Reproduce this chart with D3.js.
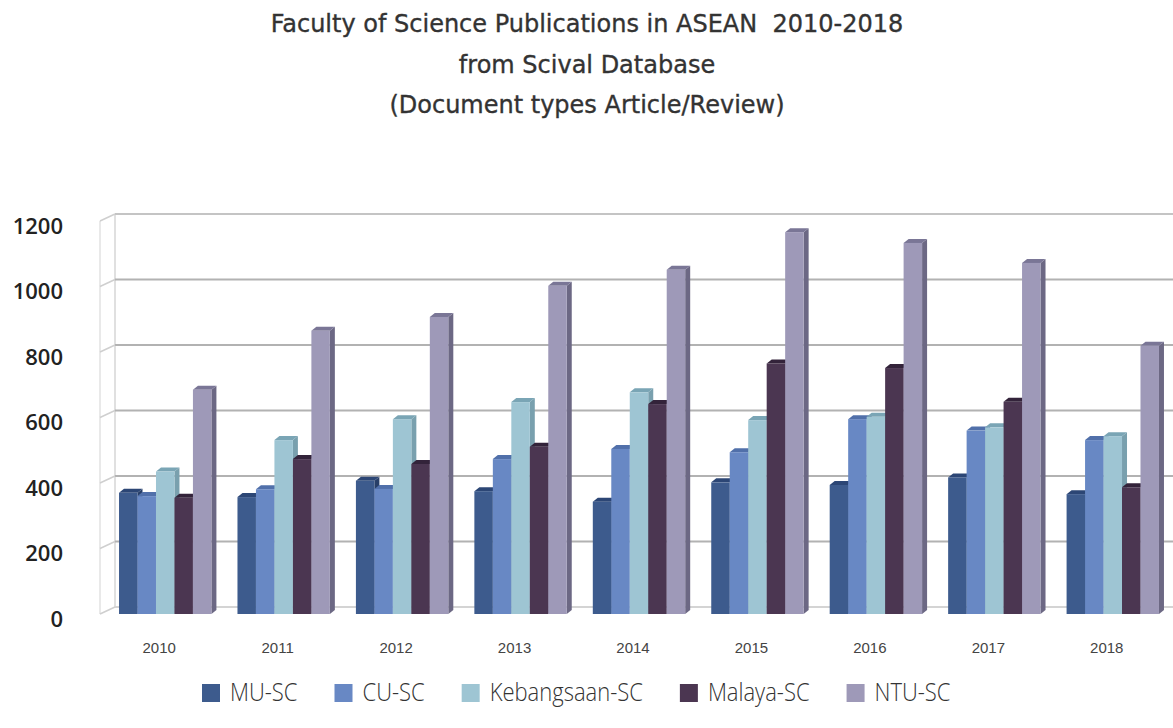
<!DOCTYPE html>
<html>
<head>
<meta charset="utf-8">
<script src="https://cdn.jsdelivr.net/npm/d3@7"></script>
<style>
  body { margin: 0; background: #fff; }
</style>
</head>
<body>
<div id="chart"></div>
<script>
// DATA
const years = ['2010', '2011', '2012', '2013', '2014', '2015', '2016', '2017', '2018'];
const seriesNames = ['MU-SC', 'CU-SC', 'Kebangsaan-SC', 'Malaya-SC', 'NTU-SC'];
const muSC = [370, 357, 407, 375, 343, 402, 394, 417, 366];
const cuSC = [360, 381, 382, 473, 504, 494, 595, 560, 531];
const kebangsaanSC = [435, 531, 595, 647, 677, 592, 602, 570, 543];
const malayaSC = [355, 473, 458, 511, 641, 765, 751, 648, 387];
const ntuSC = [685, 865, 907, 1002, 1051, 1166, 1133, 1072, 819];
const yTicks = [0, 200, 400, 600, 800, 1000, 1200];
const titleLines = [
  'Faculty of Science Publications in ASEAN  2010-2018',
  'from Scival Database',
  '(Document types Article/Review)'
];

// COLORS (front, top, side)
const colors = {
  'MU-SC':         ['#3d5b8d', '#2c4675', '#283f68'],
  'CU-SC':         ['#6888c4', '#5170aa', '#4d699e'],
  'Kebangsaan-SC': ['#9ec5d3', '#7aa5b5', '#79a0ae'],
  'Malaya-SC':     ['#4b3651', '#33233a', '#34243a'],
  'NTU-SC':        ['#9e99b8', '#7a7696', '#6c6884']
};

const seriesValues = [muSC, cuSC, kebangsaanSC, malayaSC, ntuSC];
const data = years.map((yr, i) => ({
  year: yr,
  values: seriesNames.map((s, j) => ({ name: s, value: seriesValues[j][i] }))
}));

// SIZE
const width = 1173, height = 728;
const wallDx = 15, wallDy = 7;   // depth of back wall
const barDx = 5, barDy = 4;      // depth of bars

const svg = d3.select('#chart').append('svg')
  .attr('width', width)
  .attr('height', height);

// TITLE
svg.append('g').selectAll('text')
  .data(titleLines)
  .enter().append('text')
  .attr('x', 587)
  .attr('y', (d, i) => 32 + i * 40.5)
  .attr('text-anchor', 'middle')
  .style('white-space', 'pre')
  .style('font-family', 'DejaVu Sans')
  .style('font-size', '24px')
  .style('fill', '#333')
  .style('stroke', '#333')
  .style('stroke-width', 0.35)
  .text(d => d);

// SCALES
const y = d3.scaleLinear().domain([0, 1200]).range([614, 221]);
const x = d3.scaleBand().domain(years)
  .range([106, 1172])
  .paddingInner(0.22)
  .paddingOuter(0.11);
const xs = d3.scaleBand().domain(seriesNames).range([0, x.bandwidth()]);

// WALLS
const wall = svg.append('g').attr('class', 'walls');
const x0 = 100;

wall.append('line')
  .attr('x1', x0).attr('x2', x0)
  .attr('y1', y(0)).attr('y2', y(1200))
  .style('stroke', '#e2e2e2').style('stroke-width', 1.5);

wall.append('line')
  .attr('x1', x0 + wallDx).attr('x2', x0 + wallDx)
  .attr('y1', y(0) - wallDy).attr('y2', y(1200) - wallDy)
  .style('stroke', '#d6d6d6').style('stroke-width', 1.5);

// gridlines on back wall + left wall
const grid = wall.selectAll('g.grid')
  .data(yTicks)
  .enter().append('g')
  .attr('class', 'grid');

grid.append('line')
  .attr('x1', x0 + wallDx).attr('x2', width)
  .attr('y1', d => y(d) - wallDy).attr('y2', d => y(d) - wallDy)
  .style('stroke', d => d === 0 ? '#d4d4d4' : (d === 1200 ? '#c4c4c4' : '#b2b2b2'))
  .style('stroke-width', 2);

grid.append('line')
  .attr('x1', x0).attr('x2', x0 + wallDx)
  .attr('y1', d => y(d)).attr('y2', d => y(d) - wallDy)
  .style('stroke', '#cfcfcf')
  .style('stroke-width', 1.5);

// Y LABELS
svg.append('g').selectAll('text')
  .data(yTicks)
  .enter().append('text')
  .attr('x', 63)
  .attr('y', d => y(d) + 5)
  .attr('dy', '0.35em')
  .attr('text-anchor', 'end')
  .style('font-family', 'Open Sans')
  .style('font-weight', 600)
  .style('font-size', '22px')
  .style('fill', '#222')
  .text(d => d);

// X LABELS
svg.append('g').selectAll('text')
  .data(years)
  .enter().append('text')
  .attr('x', d => x(d) + x.bandwidth() / 2 - 6)
  .attr('y', 653)
  .attr('text-anchor', 'middle')
  .style('font-family', 'Liberation Sans, Arial')
  .style('font-size', '15px')
  .style('fill', '#444')
  .text(d => d);

// BARS
const groups = svg.append('g').attr('class', 'data')
  .selectAll('g')
  .data(data)
  .enter().append('g')
  .attr('transform', d => `translate(${x(d.year)},0)`);

const bars = groups.selectAll('g')
  .data(d => d.values)
  .enter().append('g');

const bw = xs.bandwidth();

bars.append('polygon')
  .attr('points', d => {
    const bx = xs(d.name), top = y(d.value), bot = y(0);
    return [[bx + bw, top], [bx + bw + barDx, top - barDy], [bx + bw + barDx, bot - barDy], [bx + bw, bot]].join(' ');
  })
  .style('fill', d => colors[d.name][2]);

bars.append('polygon')
  .attr('points', d => {
    const bx = xs(d.name), top = y(d.value);
    return [[bx, top], [bx + barDx, top - barDy], [bx + bw + barDx, top - barDy], [bx + bw, top]].join(' ');
  })
  .style('fill', d => colors[d.name][1]);

bars.append('rect')
  .attr('x', d => xs(d.name))
  .attr('y', d => y(d.value))
  .attr('width', bw)
  .attr('height', d => y(0) - y(d.value))
  .style('fill', d => colors[d.name][0]);

// LEGEND
const legend = svg.append('g').attr('class', 'legend');
const textScale = 0.88;
let lx = 0;
seriesNames.forEach(name => {
  legend.append('rect')
    .attr('x', lx).attr('y', 684)
    .attr('width', 18).attr('height', 18)
    .style('fill', colors[name][0]);
  const t = legend.append('text')
    .attr('transform', `translate(${lx + 28},701) scale(${textScale},1)`)
    .style('font-family', 'Open Sans')
    .style('font-weight', 300)
    .style('font-size', '25px')
    .style('fill', '#333')
    .text(name);
  lx += 28 + t.node().getComputedTextLength() * textScale + 37;
});
legend.attr('transform', `translate(${202},0)`);
</script>
</body>
</html>
